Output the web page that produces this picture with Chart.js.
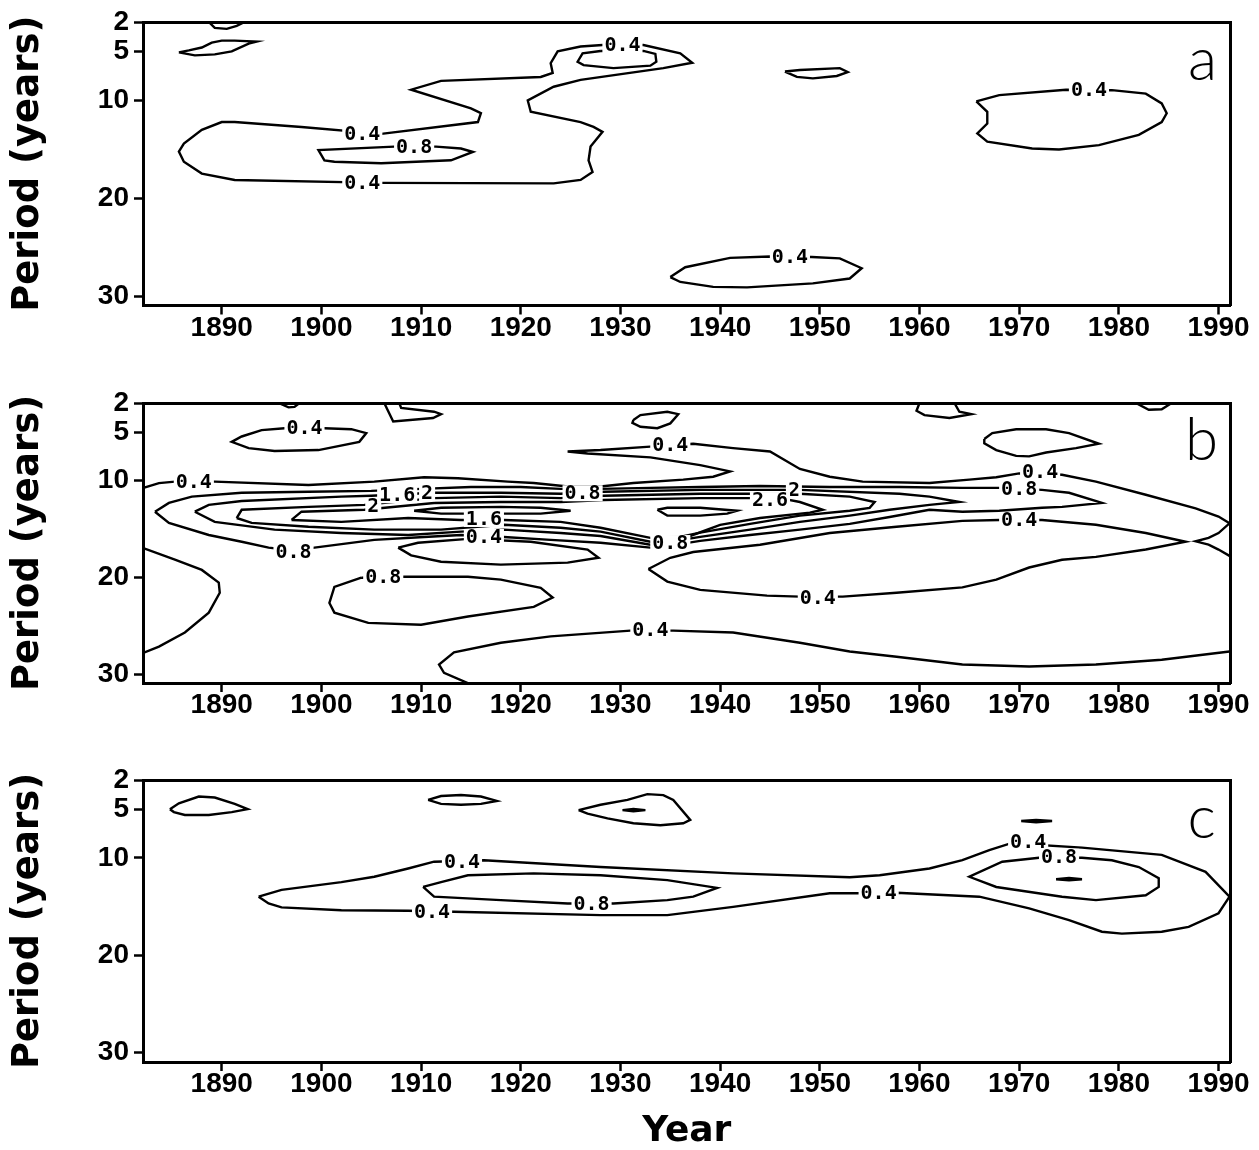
<!DOCTYPE html>
<html>
<head>
<meta charset="utf-8">
<script src="https://cdn.jsdelivr.net/npm/chart.js@4.4.1/dist/chart.umd.min.js"></script>
<style>
  body { margin: 0; background: #fff; width: 1259px; height: 1150px; position: relative; overflow: hidden; }
  canvas { position: absolute; left: 0; }
</style>
</head>
<body>
<canvas id="panelA" width="1259" height="356" style="top:0px"></canvas>
<canvas id="panelB" width="1259" height="356" style="top:380px"></canvas>
<canvas id="panelC" width="1259" height="390" style="top:760px"></canvas>
<script>
// tick labels
const yearTicks = [1890, 1900, 1910, 1920, 1930, 1940, 1950, 1960, 1970, 1980, 1990];
const periodTicks = [2, 5, 10, 20, 30];

// --------- panel a contours [year, period] ----------
const aTopLens = [[1888.7,2.0],[1889.3,2.6],[1890.5,2.7],[1891.5,2.4],[1892.3,2.0]];
const aLens5 = [[1885.7,5.1],[1886.7,4.9],[1888.0,4.6],[1889.0,4.1],[1890.0,3.9],[1891.3,3.9],[1893.5,4.0],[1892.7,4.2],[1891.0,5.0],[1889.3,5.3],[1887.3,5.4],[1885.7,5.1]];
const aMain04 = [[1906.0,13.4],[1915.7,12.2],[1916.0,11.3],[1915.0,10.8],[1909.0,8.9],[1912.0,8.0],[1922.0,7.6],[1923.2,7.2],[1923.0,6.2],[1923.7,5.0],[1926.0,4.5],[1928.2,4.35],[1932.3,4.35],[1936.0,5.2],[1937.2,6.15],[1934.3,6.7],[1926.0,7.9],[1923.3,8.6],[1920.7,10.0],[1921.0,11.15],[1926.0,12.2],[1927.3,12.7],[1928.2,13.2],[1927.0,14.7],[1926.8,16.1],[1927.2,17.3],[1926.0,18.1],[1923.3,18.45],[1906.0,18.4],[1891.3,18.1],[1888.0,17.45],[1886.2,16.25],[1885.7,15.2],[1886.2,14.4],[1888.0,13.0],[1890.0,12.2],[1891.3,12.2],[1898.0,12.7],[1906.0,13.4]];
const aCore08 = [[1907.3,14.7],[1899.7,15.05],[1900.3,16.1],[1901.3,16.25],[1906.0,16.4],[1913.0,16.1],[1915.2,15.25],[1914.0,14.9],[1911.5,14.7],[1907.3,14.7]];
const aCap04 = [[1928.0,4.95],[1926.2,5.2],[1925.7,6.05],[1926.3,6.4],[1929.3,6.7],[1933.0,6.45],[1933.6,6.05],[1933.5,5.25],[1932.3,4.95],[1928.0,4.95]];
const aLens7 = [[1946.5,7.05],[1948.0,6.9],[1952.0,6.7],[1952.8,7.1],[1951.7,7.5],[1949.3,7.75],[1947.7,7.6],[1946.5,7.05]];
const aLow04 = [[1935.0,28.0],[1936.5,27.0],[1941.0,26.05],[1945.0,25.9],[1949.2,25.95],[1952.0,26.1],[1954.2,27.1],[1953.0,28.15],[1949.3,28.65],[1942.7,29.05],[1939.3,29.0],[1936.0,28.5],[1935.0,28.0]];
const aRight04 = [[1965.7,10.1],[1968.0,9.45],[1974.7,8.9],[1979.3,8.95],[1982.7,9.3],[1984.3,10.3],[1984.8,11.3],[1984.3,12.2],[1982.0,13.5],[1978.0,14.55],[1974.0,15.0],[1971.3,14.9],[1966.8,14.2],[1965.8,13.35],[1966.8,12.35],[1966.8,11.15],[1965.7,10.1]];
const aLabels = [[1930.2,4.35,'0.4'],[1904.1,13.4,'0.4'],[1909.3,14.7,'0.8'],[1904.1,18.4,'0.4'],[1947.0,25.9,'0.4'],[1977.0,8.9,'0.4']];

// --------- panel b contours ----------
const bTop1 = [[1895.7,2.0],[1896.7,2.45],[1897.3,2.4],[1897.8,2.0]];
const bTop2 = [[1906.3,2.0],[1907.2,3.9],[1911.2,3.55],[1912.0,3.15],[1911.3,2.9],[1908.0,2.5],[1907.8,2.0]];
const bTop3 = [[1896.3,4.6],[1894.0,4.8],[1892.0,5.45],[1891.0,6.0],[1892.7,6.65],[1895.3,6.95],[1899.7,6.85],[1903.8,6.0],[1904.5,5.1],[1903.0,4.7],[1900.3,4.6],[1896.3,4.6]];
const bTop4 = [[1931.3,3.75],[1932.0,3.25],[1934.7,2.9],[1935.8,3.15],[1935.0,4.1],[1933.7,4.6],[1932.0,4.45],[1931.2,4.05],[1931.3,3.75]];
const bTop5 = [[1960.0,2.0],[1959.7,2.8],[1960.5,3.25],[1963.0,3.55],[1965.2,3.15],[1964.0,2.9],[1963.5,2.0]];
const bTop6 = [[1981.7,2.0],[1983.0,2.7],[1984.3,2.65],[1985.3,2.0]];
const bTop7 = [[1966.5,5.7],[1967.3,5.1],[1969.7,4.7],[1972.7,4.7],[1975.0,5.1],[1978.0,6.2],[1975.7,6.65],[1972.7,7.1],[1971.0,7.5],[1969.7,7.45],[1967.7,6.85],[1966.5,6.15],[1966.5,5.7]];
const bUpper04 = [[1882.0,10.8],[1883.7,10.25],[1885.3,10.1],[1889.3,10.1],[1898.7,10.45],[1905.3,10.1],[1910.3,9.65],[1913.7,9.75],[1918.7,10.1],[1921.3,10.25],[1924.7,10.6],[1928.0,10.6],[1931.3,10.25],[1936.3,9.9],[1939.3,9.6],[1941.0,9.05],[1938.0,8.4],[1933.0,7.6],[1926.7,7.2],[1924.7,7.0],[1928.0,6.85],[1933.0,6.5],[1937.3,6.2],[1941.3,6.65],[1945.0,7.0],[1948.0,8.8],[1951.0,9.6],[1954.3,10.1],[1961.0,10.25],[1965.0,9.9],[1967.7,9.65],[1970.0,9.25],[1974.3,9.4],[1977.7,10.1],[1982.7,11.45],[1987.7,12.85],[1990.0,13.7],[1991.1,14.4],[1990.0,15.4],[1989.0,15.9],[1987.7,16.25],[1989.0,16.6],[1990.0,17.1],[1991.1,17.75]];
const bBand08 = [[1883.3,13.2],[1884.7,12.3],[1887.0,11.65],[1892.0,11.25],[1898.7,11.15],[1905.0,11.05],[1910.0,10.85],[1915.0,10.65],[1920.0,10.65],[1924.0,10.85],[1928.0,10.85],[1933.0,10.75],[1938.0,10.65],[1944.0,10.55],[1951.0,10.65],[1958.0,10.65],[1964.3,10.75],[1968.0,10.75],[1972.3,10.95],[1975.0,11.25],[1978.3,12.3],[1974.3,12.7],[1972.3,12.8],[1968.0,13.1],[1964.3,13.2],[1961.0,13.0],[1957.0,13.75],[1953.0,14.45],[1948.0,15.05],[1943.0,15.6],[1938.0,16.2],[1935.0,16.7],[1933.0,16.9],[1928.0,16.4],[1923.0,16.1],[1918.3,15.8],[1914.0,15.6],[1910.3,15.8],[1905.3,16.1],[1899.3,16.9],[1897.2,17.2],[1894.7,16.9],[1892.0,16.3],[1888.7,15.6],[1884.7,14.35],[1883.3,13.2]];
const bBand12 = [[1887.3,13.2],[1888.7,12.5],[1892.0,12.1],[1902.0,11.65],[1905.0,11.55],[1911.3,11.25],[1918.0,11.25],[1924.0,11.35],[1928.3,11.15],[1938.0,10.95],[1948.0,10.95],[1958.0,11.35],[1961.0,11.65],[1964.0,12.2],[1961.0,12.5],[1957.0,13.0],[1953.0,13.6],[1948.0,14.25],[1943.0,15.05],[1938.0,15.8],[1935.0,16.3],[1933.0,16.6],[1928.0,15.7],[1924.0,15.4],[1918.3,15.05],[1914.0,15.25],[1908.7,15.6],[1902.0,15.4],[1895.3,15.05],[1889.3,14.25],[1887.3,13.2]];
const bBand16 = [[1891.5,13.85],[1892.0,13.0],[1898.7,12.7],[1904.3,12.5],[1911.3,11.8],[1918.0,11.65],[1924.0,11.8],[1928.3,11.55],[1938.0,11.35],[1948.0,11.35],[1953.0,11.65],[1955.5,12.2],[1955.0,12.8],[1953.0,13.1],[1948.0,13.6],[1943.0,14.45],[1938.0,15.35],[1935.0,16.0],[1933.0,16.3],[1928.0,15.25],[1924.0,14.85],[1918.3,14.55],[1912.0,15.05],[1905.3,15.05],[1898.7,14.75],[1893.0,14.35],[1891.5,13.85]];
const bBand20 = [[1897.0,14.05],[1898.0,13.2],[1904.3,13.0],[1911.3,12.3],[1918.0,12.2],[1924.0,12.2],[1928.3,12.0],[1938.0,11.8],[1946.0,11.8],[1948.0,12.2],[1950.3,13.0],[1949.0,13.3],[1944.0,13.85],[1940.0,14.55],[1937.0,15.7],[1933.0,15.9],[1928.0,14.85],[1924.0,14.25],[1918.3,14.05],[1914.0,14.05],[1908.7,13.85],[1902.0,14.25],[1897.0,14.05]];
const bCore24a = [[1909.3,13.1],[1912.0,12.8],[1918.0,12.7],[1922.0,12.8],[1925.0,13.1],[1922.0,13.4],[1918.0,13.4],[1912.0,13.4],[1909.3,13.1]];
const bCore24b = [[1933.7,13.0],[1934.7,12.8],[1938.0,12.8],[1941.7,13.1],[1940.7,13.4],[1938.0,13.6],[1934.7,13.6],[1933.7,13.0]];
const bLower04 = [[1932.8,19.1],[1935.0,17.95],[1937.3,17.35],[1944.0,16.6],[1951.0,15.4],[1957.7,14.75],[1964.3,14.15],[1968.0,14.05],[1972.3,14.05],[1977.7,14.55],[1982.7,15.4],[1986.7,16.3],[1982.7,17.1],[1977.7,17.85],[1974.3,18.15],[1971.0,18.95],[1967.7,20.2],[1964.3,21.0],[1957.7,21.55],[1952.3,21.95],[1948.0,21.95],[1944.7,21.85],[1938.0,21.25],[1934.7,20.4],[1932.8,19.1]];
const bLow08 = [[1907.7,16.9],[1909.7,16.4],[1914.7,16.0],[1921.0,16.3],[1926.7,17.1],[1927.8,17.95],[1924.7,18.45],[1918.0,18.65],[1912.0,18.35],[1909.0,17.7],[1907.7,16.9]];
const bMid08 = [[1904.0,20.0],[1901.3,20.95],[1900.8,22.6],[1901.3,23.6],[1904.7,24.65],[1910.0,24.85],[1914.7,24.0],[1921.3,23.0],[1923.2,22.05],[1922.0,21.05],[1918.0,20.2],[1914.7,19.9],[1908.3,19.9],[1904.0,20.0]];
const bLeft04 = [[1882.0,16.9],[1885.3,18.15],[1888.0,19.2],[1889.7,20.5],[1889.8,21.55],[1888.7,23.6],[1886.3,25.65],[1883.7,27.1],[1882.0,27.8]];
const bBottom04 = [[1915.0,31.0],[1912.3,29.8],[1911.8,28.95],[1913.3,27.7],[1918.0,26.7],[1923.0,26.05],[1931.0,25.45],[1935.3,25.45],[1941.3,25.65],[1948.0,26.7],[1953.0,27.6],[1957.7,28.15],[1964.3,28.95],[1971.0,29.15],[1977.7,28.95],[1984.3,28.45],[1991.1,27.6]];
const bLabels = [
  [1898.3,4.6,'0.4'],[1887.2,10.1,'0.4'],[1935.0,6.3,'0.4'],[1972.1,9.07,'0.4'],[1970.0,10.8,'0.8'],[1970.0,14.05,'0.4'],
  [1926.2,11.3,'0.8'],[1947.4,10.9,'2'],[1945.0,12.0,'2.6'],[1905.2,12.6,'2'],[1907.6,11.5,'1.6'],[1910.6,11.3,'2'],
  [1916.3,15.8,'0.4'],[1916.3,13.95,'1.6'],[1935.0,16.43,'0.8'],[1897.2,17.3,'0.8'],[1906.2,19.9,'0.8'],
  [1949.8,22.1,'0.4'],[1933.0,25.35,'0.4']
];

// --------- panel c contours ----------
const cLens1 = [[1884.8,5.0],[1885.7,4.4],[1887.7,3.7],[1889.3,3.8],[1891.3,4.45],[1892.6,5.0],[1891.0,5.3],[1888.7,5.6],[1886.3,5.6],[1885.2,5.3],[1884.8,5.0]];
const cLens2 = [[1910.7,4.05],[1912.0,3.65],[1914.0,3.55],[1916.0,3.7],[1917.6,4.15],[1916.0,4.45],[1914.0,4.55],[1912.0,4.45],[1910.7,4.05]];
const cShape3 = [[1925.8,5.1],[1928.0,4.55],[1930.7,4.05],[1932.7,3.45],[1934.3,3.55],[1935.3,4.05],[1937.0,6.1],[1936.3,6.45],[1934.0,6.65],[1931.3,6.45],[1928.7,5.95],[1926.7,5.45],[1925.8,5.1]];
const cDash3 = [[1930.2,5.1],[1931.3,4.98],[1932.5,5.1],[1931.3,5.22],[1930.2,5.1]];
const cDash4 = [[1970.2,6.22],[1971.7,6.1],[1973.3,6.22],[1971.7,6.34],[1970.2,6.22]];
const cDash5 = [[1973.7,12.2],[1975.0,12.08],[1976.3,12.2],[1975.0,12.32],[1973.7,12.2]];
const cOuter04 = [[1893.7,14.0],[1896.0,13.3],[1902.0,12.5],[1905.3,11.95],[1908.7,11.1],[1911.3,10.4],[1916.3,10.25],[1928.0,10.95],[1941.3,11.6],[1953.0,12.0],[1956.0,11.8],[1961.0,11.1],[1964.3,10.25],[1967.0,9.2],[1969.2,8.5],[1976.3,8.95],[1984.3,9.7],[1988.7,11.45],[1991.1,14.0],[1990.0,15.7],[1987.0,17.1],[1984.3,17.6],[1980.3,17.8],[1978.3,17.6],[1975.0,16.4],[1971.0,15.2],[1966.0,14.0],[1957.7,13.6],[1953.7,13.65],[1951.0,13.65],[1941.3,15.05],[1934.7,15.9],[1928.0,15.9],[1913.3,15.55],[1908.7,15.45],[1902.0,15.4],[1896.0,15.1],[1894.7,14.7],[1893.7,14.0]];
const cInner08a = [[1910.2,13.0],[1912.0,12.5],[1914.7,11.8],[1921.3,11.6],[1928.0,11.8],[1934.7,12.3],[1939.7,13.1],[1937.3,14.0],[1934.7,14.35],[1929.3,14.7],[1924.7,14.7],[1918.0,14.35],[1911.3,14.0],[1910.2,13.0]];
const cInner08b = [[1972.0,10.0],[1968.3,10.4],[1965.0,11.95],[1967.7,13.0],[1974.3,14.0],[1977.7,14.35],[1982.7,13.85],[1984.0,13.0],[1984.0,12.1],[1982.0,10.95],[1979.3,10.25],[1976.3,10.0],[1972.0,10.0]];
const cLabels = [[1914.1,10.4,'0.4'],[1970.9,8.35,'0.4'],[1974.0,9.9,'0.8'],[1955.9,13.6,'0.4'],[1911.1,15.55,'0.4'],[1927.1,14.7,'0.8']];

const panelLetters = [[1988.4,7.9,'a'],[1988.3,7.85,'b'],[1988.3,7.95,'c']];

const tickFont = { family: "'Liberation Sans', sans-serif", size: 28, weight: 'bold', lineHeight: 0.9 };

// draws the inline contour labels and the panel letter
function labelPlugin(items, letter) {
  return {
    id: 'contourLabels',
    afterDatasetsDraw(chart) {
      const { ctx, scales } = chart;
      ctx.save();
      ctx.font = 'bold 20px "DejaVu Sans Mono"';
      ctx.textAlign = 'center';
      ctx.textBaseline = 'middle';
      items.forEach(([vx, vy, text]) => {
        const px = scales.x.getPixelForValue(vx);
        const py = scales.y.getPixelForValue(vy);
        const w = ctx.measureText(text).width;
        ctx.fillStyle = '#fff';
        ctx.fillRect(px - w / 2 - 2, py - 8, w + 4, 16);
        ctx.fillStyle = '#000';
        ctx.fillText(text, px, py + 1);
      });
      ctx.font = '300 60px Lato, "DejaVu Sans"';
      ctx.textBaseline = 'alphabetic';
      ctx.fillText(letter[2], scales.x.getPixelForValue(letter[0]), scales.y.getPixelForValue(letter[1]));
      ctx.restore();
    }
  };
}

function makePanel(id, contours, labels, letter, padTop, axisH, yMax, showYear) {
  return new Chart(document.getElementById(id), {
    type: 'scatter',
    data: {
      datasets: contours.map(c => ({
        data: c.map(([x, y]) => ({ x, y })),
        showLine: true,
        borderColor: '#000',
        borderWidth: 2.4,
        pointRadius: 0,
        tension: 0,
        fill: false,
      })),
    },
    options: {
      responsive: false,
      animation: false,
      events: [],
      layout: { padding: { top: padTop, right: 28.5, bottom: 0, left: 0 } },
      plugins: { legend: { display: false }, tooltip: { enabled: false } },
      scales: {
        x: {
          type: 'linear', position: 'bottom', min: 1882.1, max: 1991.2,
          afterBuildTicks: s => { s.ticks = yearTicks.map(v => ({ value: v })); },
          afterFit: s => { s.height = axisH; },
          ticks: { callback: v => String(v), color: '#000', padding: 1, maxRotation: 0, autoSkip: false, font: tickFont },
          grid: { drawOnChartArea: false, drawTicks: true, tickLength: 9, tickWidth: 2.5, tickColor: '#000' },
          border: { color: '#000', width: 3 },
          title: {
            display: showYear, text: 'Year', color: '#000', padding: { top: 0, bottom: 0 },
            font: { family: "'DejaVu Sans'", size: 36, weight: 'bold', lineHeight: 1 }
          }
        },
        y: {
          type: 'linear', position: 'left', min: 2, max: yMax, reverse: true,
          afterBuildTicks: s => { s.ticks = periodTicks.map(v => ({ value: v })); },
          afterFit: s => { s.width = 143; },
          ticks: { color: '#000', padding: 5, autoSkip: false, font: tickFont },
          grid: { drawOnChartArea: false, drawTicks: true, tickLength: 9, tickWidth: 2.5, tickColor: '#000' },
          border: { color: '#000', width: 3 },
          title: {
            display: true, text: 'Period (years)', color: '#000', padding: { top: 10, bottom: 0 },
            font: { family: "'DejaVu Sans'", size: 37, weight: 'bold', lineHeight: 1 }
          }
        },
        x2: {
          type: 'linear', position: 'top', min: 1882.1, max: 1991.2,
          ticks: { display: false }, grid: { display: false },
          border: { color: '#000', width: 3 },
          afterFit: s => { s.height = 0; }
        },
        y2: {
          type: 'linear', position: 'right', min: 2, max: yMax, reverse: true,
          ticks: { display: false }, grid: { display: false },
          border: { color: '#000', width: 3 },
          afterFit: s => { s.width = 0; }
        }
      }
    },
    plugins: [labelPlugin(labels, letter)]
  });
}

makePanel('panelA', [aTopLens, aLens5, aMain04, aCore08, aCap04, aLens7, aLow04, aRight04], aLabels, panelLetters[0], 22, 50.5, 30.9, false);
makePanel('panelB', [bTop1, bTop2, bTop3, bTop4, bTop5, bTop6, bTop7, bUpper04, bBand08, bBand12, bBand16, bBand20, bCore24a, bCore24b, bLower04, bLow08, bMid08, bLeft04, bBottom04], bLabels, panelLetters[1], 23, 53, 30.85, false);
makePanel('panelC', [cLens1, cLens2, cShape3, cDash3, cDash4, cDash5, cOuter04, cInner08a, cInner08b], cLabels, panelLetters[2], 20, 88, 31.0, true);
</script>
</body>
</html>
